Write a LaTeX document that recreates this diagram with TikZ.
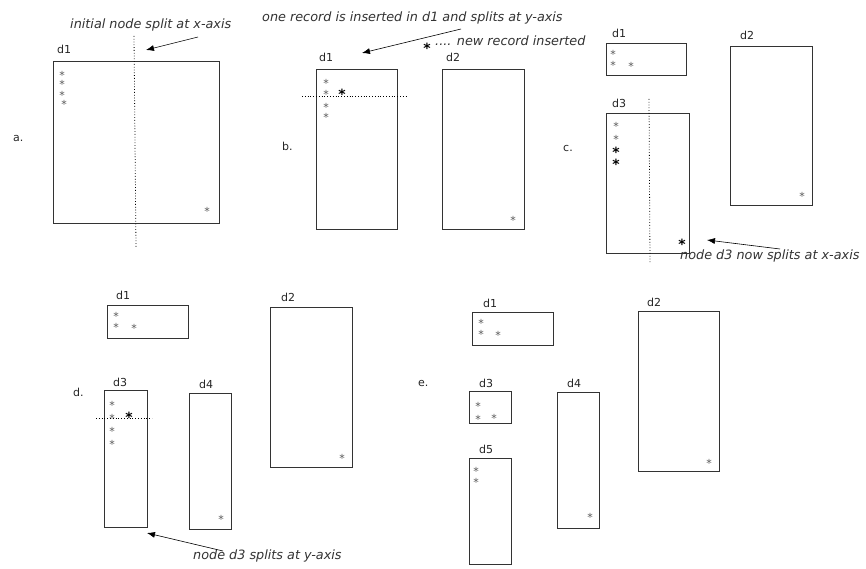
\documentclass[tikz,border=0pt]{standalone}
\usepackage{fontspec}
\setmainfont{DejaVu Sans}
\usetikzlibrary{arrows.meta,positioning}

\tikzset{
  box/.style={draw=black!80,line width=0.8pt,anchor=north west,inner sep=0pt},
  lbl/.style={anchor=west,inner sep=0pt,font=\fontsize{11}{13}\selectfont,text=black!85},
  note/.style={anchor=west,inner sep=0pt,font=\fontsize{12.8}{14}\selectfont\itshape,text=black!80},
  rec/.style={inner sep=0pt,yshift=-2.3pt,font=\fontsize{11}{11}\selectfont,text=black!65},
  newrec/.style={inner sep=0pt,yshift=-3pt,font=\fontsize{14}{14}\selectfont\bfseries,text=black},
  split/.style={dotted,line width=0.8pt},
  pointer/.style={-{Latex[length=8pt,width=6pt]},line width=0.6pt}
}

\begin{document}
\begin{tikzpicture}[x=1pt,y=-1pt]
    \useasboundingbox[fill=white] (0,0) rectangle (866,569);

    % a. initial node
    \node[box,minimum width=166pt,minimum height=162pt] (a-d1) at (53,61) {};
    \node[lbl] (a-l1) at (57,49) {d1};
    \node[lbl] (a-tag) at (13,138) {a.};
    \node[rec] (a-r1) at (62,73) {*};
    \node[rec] (a-r2) at (62,82) {*};
    \node[rec] (a-r3) at (62,93) {*};
    \node[rec] (a-r4) at (64,102) {*};
    \node[rec] (a-r5) at (207,209) {*};
    \draw[split] (134,36) -- (136,248);
    \node[note] (a-note) at (70,25) {initial node split at x-axis};
    \coordinate (a-tail) at (198,37);
    \coordinate (a-tip) at (146,50);
    \draw[pointer] (a-tail) -- (a-tip);

    % b. one record inserted
    \node[box,minimum width=81pt,minimum height=160pt] (b-d1) at (316,69) {};
    \node[box,minimum width=82pt,minimum height=160pt] (b-d2) at (442,69) {};
    \node[lbl] (b-l1) at (319,57) {d1};
    \node[lbl] (b-l2) at (446,57) {d2};
    \node[lbl] (b-tag) at (282,146) {b.};
    \node[rec] (b-r1) at (326,81) {*};
    \node[rec] (b-r2) at (326,92) {*};
    \node[rec] (b-r3) at (326,105) {*};
    \node[rec] (b-r4) at (326,115) {*};
    \node[newrec] (b-new) at (342,91) {*};
    \node[rec] (b-r5) at (513,218) {*};
    \draw[split] (302,96) -- (408,96);
    \node[note] (b-note) at (262,18) {one record is inserted in d1 and splits at y-axis};
    \coordinate (b-tail) at (461,29);
    \coordinate (b-tip) at (362,53);
    \draw[pointer] (b-tail) -- (b-tip);
    \node[newrec] (key-star) at (427,45) {*};
    \node[note] (key-note) at (435,41) {.... new record inserted};

    % c. d3 splits at x-axis
    \node[box,minimum width=80pt,minimum height=32pt] (c-d1) at (606,43) {};
    \node[box,minimum width=82pt,minimum height=159pt] (c-d2) at (730,46) {};
    \node[box,minimum width=83pt,minimum height=140pt] (c-d3) at (606,113) {};
    \node[lbl] (c-l1) at (612,33) {d1};
    \node[lbl] (c-l2) at (740,35) {d2};
    \node[lbl] (c-l3) at (612,103) {d3};
    \node[lbl] (c-tag) at (563,148) {c.};
    \node[rec] (c-r1) at (613,52) {*};
    \node[rec] (c-r2) at (613,63) {*};
    \node[rec] (c-r3) at (631,64) {*};
    \node[rec] (c-r4) at (616,124) {*};
    \node[rec] (c-r5) at (616,137) {*};
    \node[newrec] (c-r6) at (616,149) {*};
    \node[newrec] (c-r7) at (616,161) {*};
    \node[newrec] (c-r8) at (682,241) {*};
    \node[rec] (c-r9) at (802,194) {*};
    \draw[split] (649,99) -- (650,263);
    \node[note] (c-note) at (680,256) {node d3 now splits at x-axis};
    \coordinate (c-tail) at (780,249);
    \coordinate (c-tip) at (707,240);
    \draw[pointer] (c-tail) -- (c-tip);

    % d. d3 splits at y-axis
    \node[box,minimum width=81pt,minimum height=33pt] (d-d1) at (107,305) {};
    \node[box,minimum width=82pt,minimum height=160pt] (d-d2) at (270,307) {};
    \node[box,minimum width=43pt,minimum height=137pt] (d-d3) at (104,390) {};
    \node[box,minimum width=42pt,minimum height=136pt] (d-d4) at (189,393) {};
    \node[lbl] (d-l1) at (116,295) {d1};
    \node[lbl] (d-l2) at (281,297) {d2};
    \node[lbl] (d-l3) at (113,382) {d3};
    \node[lbl] (d-l4) at (199,384) {d4};
    \node[lbl] (d-tag) at (73,392) {d.};
    \node[rec] (d-r1) at (116,314) {*};
    \node[rec] (d-r2) at (116,325) {*};
    \node[rec] (d-r3) at (134,326) {*};
    \node[rec] (d-r4) at (112,403) {*};
    \node[rec] (d-r5) at (112,416) {*};
    \node[newrec] (d-r6) at (129,414) {*};
    \node[rec] (d-r7) at (112,429) {*};
    \node[rec] (d-r8) at (112,442) {*};
    \node[rec] (d-r9) at (221,517) {*};
    \node[rec] (d-r10) at (342,456) {*};
    \draw[split] (96,418) -- (152,418);
    \node[note] (d-note) at (193,556) {node d3 splits at y-axis};
    \coordinate (d-tail) at (223,551);
    \coordinate (d-tip) at (147,533);
    \draw[pointer] (d-tail) -- (d-tip);

    % e. final nodes
    \node[box,minimum width=81pt,minimum height=33pt] (e-d1) at (472,312) {};
    \node[box,minimum width=81pt,minimum height=160pt] (e-d2) at (638,311) {};
    \node[box,minimum width=42pt,minimum height=32pt] (e-d3) at (469,391) {};
    \node[box,minimum width=42pt,minimum height=136pt] (e-d4) at (557,392) {};
    \node[box,minimum width=42pt,minimum height=106pt] (e-d5) at (469,458) {};
    \node[lbl] (e-l1) at (483,303) {d1};
    \node[lbl] (e-l2) at (647,302) {d2};
    \node[lbl] (e-l3) at (479,383) {d3};
    \node[lbl] (e-l4) at (567,383) {d4};
    \node[lbl] (e-l5) at (479,449) {d5};
    \node[lbl] (e-tag) at (418,383) {e.};
    \node[rec] (e-r1) at (481,321) {*};
    \node[rec] (e-r2) at (481,332) {*};
    \node[rec] (e-r3) at (498,333) {*};
    \node[rec] (e-r4) at (478,404) {*};
    \node[rec] (e-r5) at (478,417) {*};
    \node[rec] (e-r6) at (494,416) {*};
    \node[rec] (e-r7) at (476,469) {*};
    \node[rec] (e-r8) at (476,480) {*};
    \node[rec] (e-r9) at (590,515) {*};
    \node[rec] (e-r10) at (709,461) {*};
  \end{tikzpicture}
\end{document}
